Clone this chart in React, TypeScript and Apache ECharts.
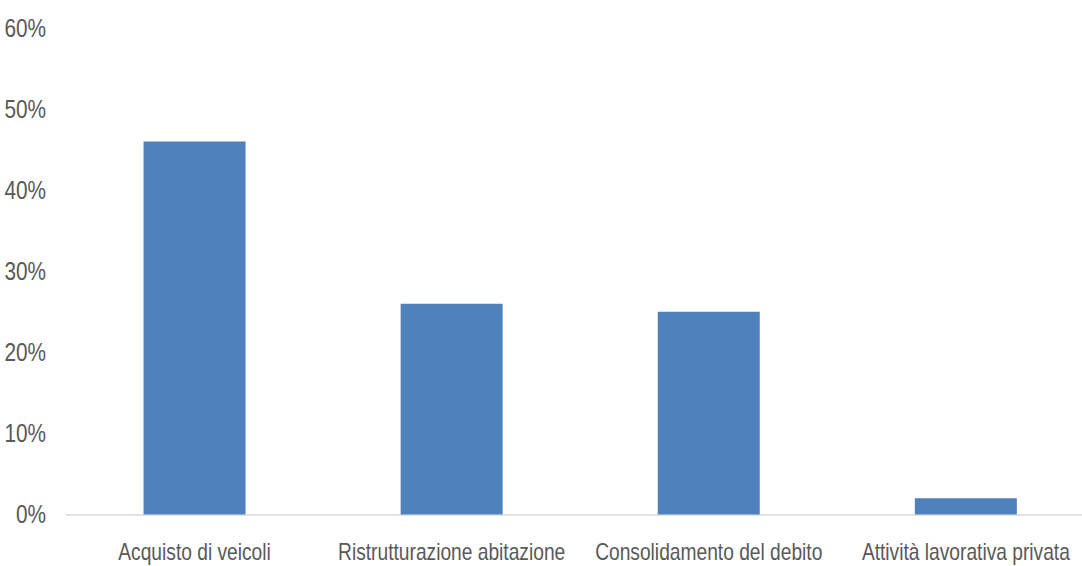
import React, { useEffect, useRef } from "react";
import * as echarts from "echarts";

const categories = [
  "Acquisto di veicoli",
  "Ristrutturazione abitazione",
  "Consolidamento del debito",
  "Attività lavorativa privata",
];
const shares = [46, 26, 25, 2];
const yTicks = { min: 0, max: 60, interval: 10 };

const FONT = '"Liberation Sans", Arial, sans-serif';
// The chart is laid out wide and squeezed horizontally so the type reads condensed.
const SQUEEZE = 0.8;
const VIEW_W = 1082;
const VIEW_H = 566;
const PLOT_W = 1094;

export default function App() {
  const ref = useRef<HTMLDivElement>(null);

  useEffect(() => {
    document.body.style.margin = "0";
    document.body.style.overflow = "hidden";
    const chart = echarts.init(ref.current!, undefined, { renderer: "svg" });
    chart.setOption({
      animation: false,
      backgroundColor: "#ffffff",
      grid: { left: 66 / SQUEEZE, right: 0, top: 28, bottom: 51.5, containLabel: false },
      xAxis: {
        type: "category",
        data: categories,
        axisLine: { lineStyle: { color: "#d9d9d9", width: 1.5 } },
        axisTick: { show: false },
        axisLabel: {
          color: "#595959",
          fontFamily: FONT,
          fontSize: 24,
          margin: 25,
          interval: 0,
        },
      },
      yAxis: {
        type: "value",
        min: yTicks.min,
        max: yTicks.max,
        interval: yTicks.interval,
        axisLine: { show: false },
        axisTick: { show: false },
        splitLine: { show: false },
        axisLabel: {
          color: "#595959",
          fontFamily: FONT,
          fontSize: 26,
          margin: 25,
          formatter: (v: number) => `${v}%`,
        },
      },
      series: [
        {
          type: "bar",
          data: shares,
          barWidth: 102 / SQUEEZE,
          itemStyle: { color: "#4f81bd" },
        },
      ],
    });
    return () => chart.dispose();
  }, []);

  return (
    <div style={{ width: VIEW_W, height: VIEW_H, overflow: "hidden", background: "#fff" }}>
      <div
        ref={ref}
        style={{
          width: PLOT_W / SQUEEZE,
          height: VIEW_H,
          transform: `scaleX(${SQUEEZE})`,
          transformOrigin: "0 0",
        }}
      />
    </div>
  );
}
